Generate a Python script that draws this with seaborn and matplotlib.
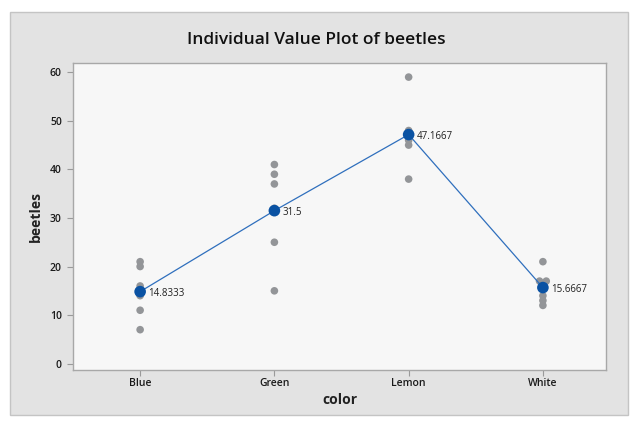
import numpy as np
import pandas as pd
import matplotlib
matplotlib.use("Agg")
import matplotlib.pyplot as plt
from matplotlib.patches import Rectangle
import seaborn as sns

# Data: beetle counts per board colour
colors = ["Blue", "Green", "Lemon", "White"]
blue = [16, 11, 20, 21, 14, 7]
green = [37, 32, 15, 25, 39, 41]
lemon = [45, 59, 48, 46, 38, 47]
white = [21, 12, 14, 17, 13, 17]

df = pd.DataFrame({
    "color": np.repeat(colors, 6),
    "beetles": blue + green + lemon + white,
})
df["pos"] = df["color"].map({c: i for i, c in enumerate(colors)}).astype(float)

# spread tied values side by side like Minitab does
tie_rank = df.groupby(["color", "beetles"]).cumcount()
tie_n = df.groupby(["color", "beetles"])["beetles"].transform("size")
df["xpos"] = df["pos"] + (tie_rank - (tie_n - 1) / 2) * 0.05

means = df.groupby("color", sort=False)["beetles"].mean()

sns.set_style("white")
plt.rcParams["font.family"] = ["Open Sans", "DejaVu Sans"]

fig = plt.figure(figsize=(6.32, 4.21), dpi=100, facecolor="white")
fig.patches.append(Rectangle((10 / 632, 6 / 421), 618 / 632, 403 / 421,
                             transform=fig.transFigure, facecolor="#e3e3e3",
                             edgecolor="#c4c4c4", linewidth=1, zorder=-1))
ax = fig.add_axes([73 / 632, 51 / 421, 533 / 632, 307 / 421])
ax.set_facecolor("#f7f7f7")

sns.scatterplot(data=df, x="xpos", y="beetles", color="#939598", s=30,
                edgecolor="none", ax=ax, zorder=2)

mean_df = pd.DataFrame({"pos": np.arange(len(colors)), "mean": means.values})
sns.lineplot(data=mean_df, x="pos", y="mean", color="#2f6fbd", linewidth=0.9,
             ax=ax, zorder=3)
sns.scatterplot(data=mean_df, x="pos", y="mean", color="#0a52a3", s=70,
                edgecolor="none", ax=ax, zorder=4)

for i, m in enumerate(means.values):
    label = f"{m:.4f}".rstrip("0").rstrip(".")
    ax.annotate(label, (i, m), xytext=(6, -3), textcoords="offset points",
                fontsize=7, color="#222222", zorder=5)

ax.set_xlim(-0.5, 3.47)
ax.set_ylim(-1.3, 61.9)
ax.set_xticks(range(len(colors)))
ax.set_xticklabels(colors)
ax.set_yticks(range(0, 61, 10))
ax.tick_params(axis="both", which="both", direction="out", length=4,
               color="#9a9a9a", labelsize=7.5, labelcolor="#1a1a1a",
               left=True, bottom=True, pad=4)
ax.tick_params(axis="x", pad=2)
for lab in ax.get_xticklabels() + ax.get_yticklabels():
    lab.set_fontweight("semibold")
for side in ax.spines.values():
    side.set_color("#a8a8a8")
    side.set_linewidth(1)

ax.set_xlabel("color", fontsize=10, fontweight="bold", color="#222222", labelpad=3)
ax.set_ylabel("beetles", fontsize=10, fontweight="bold", color="#222222", labelpad=5)
fig.text(0.5, 1 - 40 / 421, "Individual Value Plot of beetles",
         ha="center", va="center", fontsize=12.5, fontweight="semibold",
         color="#111111")

fig.savefig("out.png", dpi=100, facecolor=fig.get_facecolor())
